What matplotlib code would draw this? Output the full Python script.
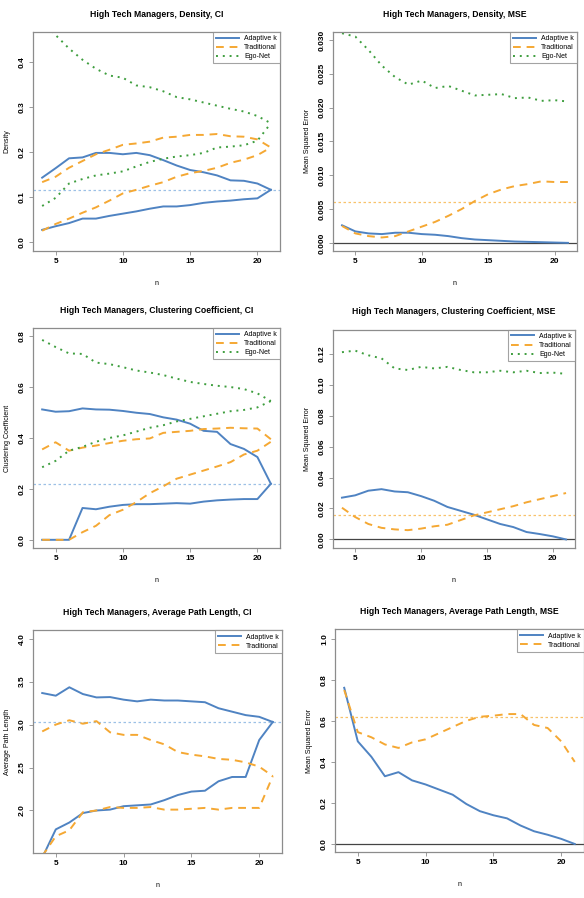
import numpy as np
import matplotlib
matplotlib.use("Agg")
import matplotlib.pyplot as plt

plt.rcParams['font.family'] = ['Liberation Sans', 'DejaVu Sans']

n = np.arange(4, 22)

# Density, CI
dens_ad_hi = [0.143, 0.164, 0.186, 0.188, 0.198, 0.198, 0.195, 0.198, 0.193, 0.182, 0.170, 0.160,
              0.155, 0.148, 0.137, 0.136, 0.130, 0.116]
dens_ad_lo = [0.027, 0.035, 0.042, 0.052, 0.052, 0.058, 0.063, 0.068, 0.074, 0.079, 0.079, 0.082,
              0.087, 0.090, 0.092, 0.095, 0.097, 0.116]
dens_tr_hi = [0.133, 0.145, 0.165, 0.180, 0.195, 0.205, 0.216, 0.219, 0.223, 0.232, 0.234, 0.238,
              0.238, 0.240, 0.235, 0.234, 0.228, 0.210]
dens_tr_lo = [0.025, 0.040, 0.052, 0.065, 0.077, 0.092, 0.108, 0.116, 0.125, 0.133, 0.145, 0.153,
              0.158, 0.165, 0.176, 0.183, 0.193, 0.210]
dens_eg_hi = [0.490, 0.460, 0.430, 0.405, 0.385, 0.370, 0.365, 0.348, 0.344, 0.335, 0.322, 0.317,
              0.310, 0.303, 0.296, 0.290, 0.280, 0.264]
dens_eg_lo = [0.080, 0.098, 0.130, 0.140, 0.148, 0.152, 0.157, 0.168, 0.178, 0.185, 0.190, 0.193,
              0.198, 0.210, 0.212, 0.215, 0.225, 0.264]
dens_true = 0.116

# Density, MSE
dens_mse_ad = [0.0026, 0.0017, 0.0014, 0.0013, 0.0015, 0.0015, 0.0013, 0.0012, 0.0010, 0.0007,
               0.0005, 0.0004, 0.0003, 0.0002, 0.00015, 0.0001, 0.00005, 0.0]
dens_mse_tr = [0.0025, 0.0014, 0.0010, 0.0008, 0.0010, 0.0017, 0.0024, 0.0031, 0.0040, 0.0050,
               0.0062, 0.0072, 0.0079, 0.0084, 0.0087, 0.0091, 0.0090, 0.0090]
dens_mse_eg = [0.0310, 0.0305, 0.0285, 0.0262, 0.0245, 0.0234, 0.0240, 0.0229, 0.0232, 0.0225,
               0.0218, 0.0219, 0.0220, 0.0214, 0.0215, 0.0210, 0.0211, 0.0209]
dens_mse_ref = 0.006

# Clustering coefficient, CI
cc_ad_hi = [0.512, 0.503, 0.505, 0.516, 0.512, 0.511, 0.506, 0.499, 0.494, 0.481, 0.472, 0.456,
            0.428, 0.424, 0.376, 0.357, 0.325, 0.220]
cc_ad_lo = [0.0, 0.0, 0.0, 0.125, 0.120, 0.130, 0.137, 0.140, 0.140, 0.142, 0.144, 0.142,
            0.150, 0.155, 0.158, 0.160, 0.160, 0.220]
cc_tr_hi = [0.355, 0.383, 0.350, 0.362, 0.370, 0.380, 0.389, 0.395, 0.398, 0.420, 0.424, 0.428,
            0.435, 0.437, 0.440, 0.438, 0.437, 0.395]
cc_tr_lo = [0.0, 0.0, 0.0, 0.030, 0.055, 0.097, 0.118, 0.148, 0.183, 0.210, 0.240, 0.256,
            0.272, 0.288, 0.305, 0.335, 0.350, 0.385]
cc_eg_hi = [0.785, 0.757, 0.732, 0.730, 0.696, 0.690, 0.678, 0.665, 0.657, 0.647, 0.633, 0.620,
            0.612, 0.605, 0.600, 0.592, 0.575, 0.545]
cc_eg_lo = [0.285, 0.310, 0.350, 0.365, 0.385, 0.400, 0.410, 0.425, 0.440, 0.450, 0.465, 0.475,
            0.485, 0.495, 0.505, 0.510, 0.520, 0.545]
cc_true = 0.219

# Clustering coefficient, MSE
cc_mse_ad = [0.0270, 0.0285, 0.0315, 0.0325, 0.0310, 0.0305, 0.0280, 0.0250, 0.0210, 0.0185,
             0.0160, 0.0130, 0.0100, 0.0080, 0.0048, 0.0035, 0.0020, 0.0]
cc_mse_tr = [0.0205, 0.0145, 0.0100, 0.0075, 0.0065, 0.0060, 0.0070, 0.0085, 0.0095, 0.0125,
             0.0155, 0.0175, 0.0195, 0.0215, 0.0240, 0.0260, 0.0280, 0.0300]
cc_mse_eg = [0.1210, 0.1220, 0.1190, 0.1170, 0.1105, 0.1095, 0.1115, 0.1105, 0.1115, 0.1095,
             0.1080, 0.1080, 0.1090, 0.1080, 0.1090, 0.1075, 0.1078, 0.1070]
cc_mse_ref = 0.0155

# Average path length, CI
apl_ad_hi = [3.367, 3.336, 3.434, 3.355, 3.316, 3.320, 3.290, 3.270, 3.290, 3.280, 3.280, 3.270,
             3.260, 3.190, 3.150, 3.110, 3.090, 3.030]
apl_ad_lo = [1.450, 1.780, 1.860, 1.970, 2.000, 2.010, 2.050, 2.060, 2.070, 2.120, 2.180, 2.220,
             2.230, 2.340, 2.390, 2.390, 2.820, 3.030]
apl_tr_hi = [2.920, 3.000, 3.050, 3.010, 3.040, 2.910, 2.880, 2.880, 2.820, 2.770, 2.680, 2.650,
             2.630, 2.600, 2.590, 2.560, 2.510, 2.400]
apl_tr_lo = [1.470, 1.700, 1.770, 1.980, 2.000, 2.040, 2.030, 2.030, 2.040, 2.010, 2.010, 2.020,
             2.030, 2.010, 2.030, 2.030, 2.030, 2.400]
apl_true = 3.035

# Average path length, MSE
apl_mse_ad = [0.761, 0.500, 0.425, 0.330, 0.350, 0.310, 0.290, 0.265, 0.240, 0.195, 0.160, 0.140,
              0.125, 0.090, 0.062, 0.045, 0.025, 0.0]
apl_mse_tr = [0.750, 0.545, 0.520, 0.485, 0.468, 0.495, 0.510, 0.540, 0.570, 0.600, 0.620, 0.625,
              0.633, 0.633, 0.580, 0.565, 0.500, 0.400]
apl_mse_ref = 0.62

c_ad = '#4f83c2'
c_tr = '#f5a833'
c_eg = '#3e9e3e'
c_ad_ref = '#9cc0e6'
c_tr_ref = '#f8c26a'
frame = '#8c8c8c'


def style(ax, title, ylabel, ylim, yticks, yfmt):
    ax.set_xlim(3.32, 21.68)
    ax.set_ylim(*ylim)
    ax.set_xticks([5, 10, 15, 20])
    ax.set_yticks(yticks)
    ax.set_yticklabels([yfmt.format(v) for v in yticks], rotation=90, va='center',
                       fontsize=6, fontweight='bold')
    ax.set_xticklabels(['5', '10', '15', '20'], fontsize=6, fontweight='bold')
    ax.tick_params(direction='out', length=3, width=0.6, color=frame, pad=2)
    for s in ax.spines.values():
        s.set_color(frame)
        s.set_linewidth(0.9)
    ax.set_title(title, fontsize=6.2, fontweight='bold', pad=11)
    ax.set_xlabel('n', fontsize=5, labelpad=11)
    ax.set_ylabel(ylabel, fontsize=5, labelpad=6)


def legend(ax, ego=True):
    h = [plt.Line2D([], [], color=c_ad, lw=1.4, ls='-'),
         plt.Line2D([], [], color=c_tr, lw=1.4, ls=(0, (4, 3)))]
    lab = ['Adaptive k', 'Traditional']
    if ego:
        h.append(plt.Line2D([], [], color=c_eg, lw=1.4, ls=(0, (1, 2.5))))
        lab.append('Ego-Net')
    lg = ax.legend(h, lab, loc='upper right', fontsize=5, frameon=True, fancybox=False,
                   borderaxespad=0, handlelength=3.2, borderpad=0.45, labelspacing=0.3,
                   handletextpad=0.8)
    lg.get_frame().set_edgecolor(frame)
    lg.get_frame().set_linewidth(0.8)


def ci(ax, hi, lo, color, ls):
    ax.plot(n, hi, color=color, lw=1.4, ls=ls)
    ax.plot(n, lo, color=color, lw=1.4, ls=ls)


fig = plt.figure(figsize=(5.84, 8.98), dpi=100)
lx, rx = 33 / 584, 333 / 584
w = 247 / 584
ax1 = fig.add_axes([lx, 0.7205, w, 0.244])
ax2 = fig.add_axes([rx, 0.7205, 244 / 584, 0.244])
ax3 = fig.add_axes([lx, 0.3898, w, 0.245])
ax4 = fig.add_axes([rx, 0.3898, 242 / 584, 0.243])
ax5 = fig.add_axes([lx, 0.050, 249 / 584, 0.248])
ax6 = fig.add_axes([335 / 584, 0.051, 249 / 584, 0.248])

dash = (0, (4, 3))
dot = (0, (1, 2.5))

# panel 1
ax1.axhline(dens_true, color=c_ad_ref, lw=0.9, ls=(0, (2, 2)))
ci(ax1, dens_ad_hi, dens_ad_lo, c_ad, '-')
ci(ax1, dens_tr_hi, dens_tr_lo, c_tr, dash)
ci(ax1, dens_eg_hi, dens_eg_lo, c_eg, dot)
style(ax1, 'High Tech Managers, Density, CI', 'Density', (-0.02, 0.467),
      [0.0, 0.1, 0.2, 0.3, 0.4], '{:.1f}')
legend(ax1)

# panel 2
ax2.axhline(0, color='#444444', lw=0.9)
ax2.axhline(dens_mse_ref, color=c_tr_ref, lw=0.9, ls=(0, (2, 2)))
ax2.plot(n, dens_mse_ad, color=c_ad, lw=1.4)
ax2.plot(n, dens_mse_tr, color=c_tr, lw=1.4, ls=dash)
ax2.plot(n, dens_mse_eg, color=c_eg, lw=1.4, ls=dot)
style(ax2, 'High Tech Managers, Density, MSE', 'Mean Squared Error', (-0.0012, 0.0312),
      [0.0, 0.005, 0.010, 0.015, 0.020, 0.025, 0.030], '{:.3f}')
legend(ax2)

# panel 3
ax3.axhline(cc_true, color=c_ad_ref, lw=0.9, ls=(0, (2, 2)))
ci(ax3, cc_ad_hi, cc_ad_lo, c_ad, '-')
ci(ax3, cc_tr_hi, cc_tr_lo, c_tr, dash)
ci(ax3, cc_eg_hi, cc_eg_lo, c_eg, dot)
style(ax3, 'High Tech Managers, Clustering Coefficient, CI', 'Clustering Coefficient',
      (-0.032, 0.832), [0.0, 0.2, 0.4, 0.6, 0.8], '{:.1f}')
legend(ax3)

# panel 4
ax4.axhline(0, color='#444444', lw=0.9)
ax4.axhline(cc_mse_ref, color=c_tr_ref, lw=0.9, ls=(0, (2, 2)))
ax4.plot(n, cc_mse_ad, color=c_ad, lw=1.4)
ax4.plot(n, cc_mse_tr, color=c_tr, lw=1.4, ls=dash)
ax4.plot(n, cc_mse_eg, color=c_eg, lw=1.4, ls=dot)
style(ax4, 'High Tech Managers, Clustering Coefficient, MSE', 'Mean Squared Error',
      (-0.0055, 0.1355), [0.0, 0.02, 0.04, 0.06, 0.08, 0.10, 0.12], '{:.2f}')
legend(ax4)

# panel 5
ax5.axhline(apl_true, color=c_ad_ref, lw=0.9, ls=(0, (2, 2)))
ci(ax5, apl_ad_hi, apl_ad_lo, c_ad, '-')
ci(ax5, apl_tr_hi, apl_tr_lo, c_tr, dash)
style(ax5, 'High Tech Managers, Average Path Length, CI', 'Average Path Length',
      (1.504, 4.096), [2.0, 2.5, 3.0, 3.5, 4.0], '{:.1f}')
legend(ax5, ego=False)

# panel 6
ax6.axhline(0, color='#444444', lw=0.9)
ax6.axhline(apl_mse_ref, color=c_tr_ref, lw=0.9, ls=(0, (2, 2)))
ax6.plot(n, apl_mse_ad, color=c_ad, lw=1.4)
ax6.plot(n, apl_mse_tr, color=c_tr, lw=1.4, ls=dash)
style(ax6, 'High Tech Managers, Average Path Length, MSE', 'Mean Squared Error',
      (-0.04, 1.045), [0.0, 0.2, 0.4, 0.6, 0.8, 1.0], '{:.1f}')
legend(ax6, ego=False)

fig.savefig('out.png', dpi=100)
